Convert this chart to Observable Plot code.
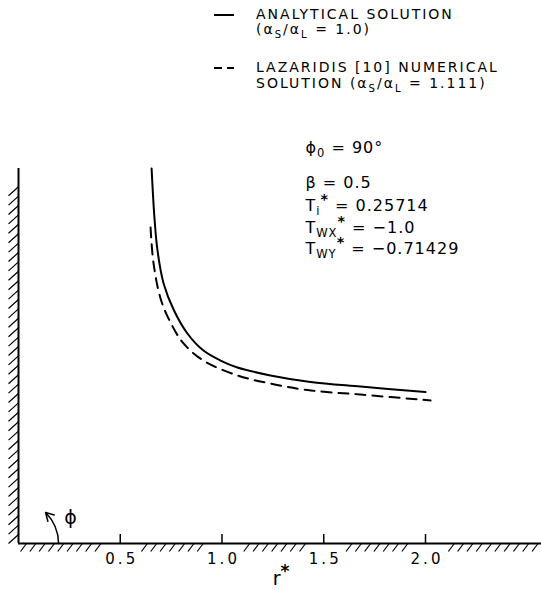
<!DOCTYPE html>
<html><head><meta charset="utf-8">
<script src="https://cdn.jsdelivr.net/npm/d3@7"></script>
<script src="https://cdn.jsdelivr.net/npm/@observablehq/plot@0.6"></script>
<style>
body{margin:0;background:#fff;font-family:"DejaVu Sans",sans-serif;}
#legend,#chart{display:block;line-height:0}
svg{overflow:visible}
</style></head><body>
<div id="legend"></div><div id="chart"></div>
<script>
// ---- data (r*, y*) ----
const analyticalR = [0.654,0.668,0.683,0.713,0.762,0.830,0.909,0.993,1.076,1.238,1.435,1.681,2.000];
const analyticalY = [1.843,1.602,1.440,1.278,1.150,1.032,0.948,0.899,0.865,0.826,0.794,0.771,0.744];
const numericalR  = [0.649,0.663,0.698,0.747,0.811,0.909,1.076,1.238,1.420,1.681,2.025];
const numericalY  = [1.553,1.381,1.204,1.086,0.983,0.899,0.826,0.786,0.754,0.732,0.703];
const xTicks = [0.5, 1.0, 1.5, 2.0];
const xTickLabels = ["0.5", "1.0", "1.5", "2.0"];
const legendLines = [
  "ANALYTICAL SOLUTION",
  "(α_{S}/α_{L} = 1.0)",
  "LAZARIDIS [10] NUMERICAL",
  "SOLUTION (α_{S}/α_{L} = 1.111)"
];
const annotations = [
  "ϕ_{0} = 90°",
  "β = 0.5",
  "T_{i}^{*} = 0.25714",
  "T_{WX}^{*} = −1.0",
  "T_{WY}^{*} = −0.71429"
];
const annotationY = [1.921, 1.749, 1.636, 1.528, 1.425];
const annotationX = 1.41;
const xLabel = "r^{*}";

// ---- helpers ----
function richify(textEl, fs) {
  const s = textEl.textContent;
  if (!/[_^]\{/.test(s)) return;
  textEl.textContent = "";
  const parts = s.split(/(_\{[^}]*\}|\^\{[^}]*\})/).filter(p => p !== "");
  let shift = 0;
  for (const p of parts) {
    const t = document.createElementNS("http://www.w3.org/2000/svg", "tspan");
    let target = 0, content = p, size = null, weight = null;
    if (p.startsWith("_{")) { target = fs * 0.3; content = p.slice(2, -1); size = fs * 0.72; }
    else if (p.startsWith("^{")) { target = -fs * 0.38; content = p.slice(2, -1); size = fs * 0.9; weight = "bold"; }
    const dy = target - shift;
    if (dy) t.setAttribute("dy", dy);
    shift = target;
    if (size) t.setAttribute("font-size", size);
    if (weight) t.setAttribute("font-weight", weight);
    t.textContent = content;
    textEl.appendChild(t);
  }
}

// ---- legend ----
const leg = d3.select("#legend").append("svg").attr("width", 541).attr("height", 120);
const legBase = [19, 34, 72, 88];
leg.append("line").attr("x1", 214).attr("x2", 234).attr("y1", 15).attr("y2", 15)
  .attr("stroke", "#000").attr("stroke-width", 2);
leg.append("line").attr("x1", 214).attr("x2", 234).attr("y1", 68).attr("y2", 68)
  .attr("stroke", "#000").attr("stroke-width", 2).attr("stroke-dasharray", "8,5");
legendLines.forEach((s, i) => {
  const t = leg.append("text").attr("x", 256).attr("y", legBase[i])
    .attr("font-size", 14).attr("letter-spacing", 2).attr("font-family", "DejaVu Sans")
    .text(s);
  richify(t.node(), 14);
});

// ---- plot ----
const k = 203.5; // px per unit (equal aspect)
const analytical = analyticalR.map((r, i) => ({r, y: analyticalY[i]}));
const numerical = numericalR.map((r, i) => ({r, y: numericalY[i]}));

const xMax = 523 / k, yMax = 375 / k;
const hx = 9.3 / k;
const bottomHatch = d3.range(0.01, xMax, hx).filter(x => !xTicks.some(t => Math.abs(x + 3 / k - t) < 0.095));
const leftHatch = d3.range(0.0, yMax - 0.09, 9.4 / k);

const chart = Plot.plot({
  width: 541, height: 470,
  marginLeft: 18, marginRight: 0, marginTop: 48, marginBottom: 47,
  x: {domain: [0, xMax], axis: null},
  y: {domain: [0, yMax], axis: null},
  style: {fontFamily: "DejaVu Sans", background: "white", overflow: "visible", color: "#000"},
  marks: [
    // hatching
    Plot.link(bottomHatch, {x1: d => d, y1: -8 / k, x2: d => d + 6 / k, y2: 0, stroke: "#000", strokeWidth: 1.2}),
    Plot.link(leftHatch, {x1: -10 / k, y1: d => d, x2: 0, y2: d => d + 9 / k, stroke: "#000", strokeWidth: 1.2}),
    // walls / axis
    Plot.ruleX([0], {stroke: "#000", strokeWidth: 2}),
    Plot.ruleY([0], {stroke: "#000", strokeWidth: 2}),
    Plot.tickX(xTicks, {x: d => d, insetTop: 375 - 9, stroke: "#000", strokeWidth: 1.5}),
    Plot.text(xTicks, {x: d => d, frameAnchor: "bottom", dy: 20, dx: 1.5, lineAnchor: "bottom",
      text: (d, i) => xTickLabels[i], fontSize: 15, fill: "#000"}),
    Plot.text([xLabel], {x: 1.29, frameAnchor: "bottom", dy: 41, lineAnchor: "bottom", text: d => d, fontSize: 19, fill: "#000"}),
    // curves
    Plot.line(analytical, {x: "r", y: "y", curve: "catmull-rom", stroke: "#000", strokeWidth: 2}),
    Plot.line(numerical, {x: "r", y: "y", curve: "catmull-rom", stroke: "#000", strokeWidth: 2, strokeDasharray: "10,7"}),
    // angle arrow
    Plot.arrow([0], {x1: 0.197, y1: 0, x2: 0.133, y2: 0.152, bend: -22, stroke: "#000", strokeWidth: 1.5, headLength: 9}),
    Plot.text(["ϕ"], {x: 0.256, y: 0.128, text: d => d, fontSize: 19, fill: "#000"}),
    // annotations
    Plot.text(annotations, {x: annotationX, y: (d, i) => annotationY[i], text: d => d,
      textAnchor: "start", lineAnchor: "bottom", fontSize: 16, fill: "#000"})
  ]
});
document.getElementById("chart").appendChild(chart);
// letter spacing for tick labels and annotations
d3.select(chart).selectAll("text").each(function() {
  const g = this.closest("g");
  const fs = parseFloat(g.getAttribute("font-size")) || 16;
  if (fs === 15) this.setAttribute("letter-spacing", 3);
  if (fs === 16) this.setAttribute("letter-spacing", 1);
  richify(this, fs);
});
</script>
</body></html>
